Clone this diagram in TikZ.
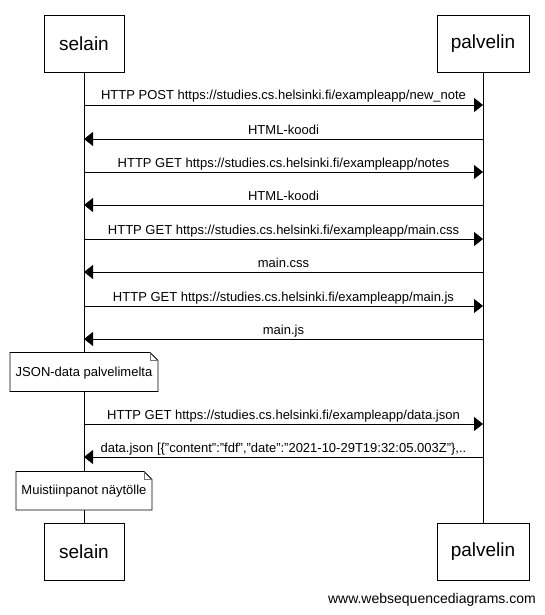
\documentclass[tikz,border=0pt]{standalone}
\usepackage{fontspec}
\setmainfont{Liberation Sans}
\usetikzlibrary{arrows.meta}
\begin{document}
\begin{tikzpicture}[x=1pt,y=-1pt,
  actor/.style={draw,line width=0.9pt,fill=white,minimum width=80pt,minimum height=57pt,inner sep=0pt,font=\fontsize{19}{22}\selectfont},
  msg/.style={line width=0.9pt,-{Triangle[length=9pt,width=14pt]}},
  lbl/.style={font=\fontsize{13}{15}\selectfont,anchor=base,inner sep=0pt},
  life/.style={line width=0.9pt},
  notetxt/.style={font=\fontsize{13}{15}\selectfont,inner sep=0pt},
  notebox/.style={draw,line width=0.9pt,fill=white},
  fold/.style={draw=black!55,line width=0.7pt}]
\useasboundingbox (0,0) rectangle (545,615);
% actors
\node[actor] (sT) at (84,43.8) {selain};
\node[actor,minimum width=92pt] (pT) at (483,43.8) {palvelin};
\node[actor] (sB) at (84,551.6) {selain};
\node[actor,minimum width=92pt] (pB) at (483,551.6) {palvelin};
% lifelines
\draw[life] (sT.south) -- (sB.north);
\draw[life] (pT.south) -- (pB.north);
% message coordinates
\foreach \n/\y in {1/105,2/139,3/172,4/205,5/239,6/272,7/306,8/339,9/424,10/457}{
  \coordinate (s\n) at (84,\y);
  \coordinate (p\n) at (483,\y);
}
\draw[msg] (s1) -- (p1) node[lbl,pos=0.5,yshift=5pt] {HTTP POST https://studies.cs.helsinki.fi/exampleapp/new\_note};
\draw[msg] (p2) -- (s2) node[lbl,pos=0.5,yshift=5pt] {HTML-koodi};
\draw[msg] (s3) -- (p3) node[lbl,pos=0.5,yshift=5pt] {HTTP GET https://studies.cs.helsinki.fi/exampleapp/notes};
\draw[msg] (p4) -- (s4) node[lbl,pos=0.5,yshift=5pt] {HTML-koodi};
\draw[msg] (s5) -- (p5) node[lbl,pos=0.5,yshift=5pt] {HTTP GET https://studies.cs.helsinki.fi/exampleapp/main.css};
\draw[msg] (p6) -- (s6) node[lbl,pos=0.5,yshift=5pt] {main.css};
\draw[msg] (s7) -- (p7) node[lbl,pos=0.5,yshift=5pt] {HTTP GET https://studies.cs.helsinki.fi/exampleapp/main.js};
\draw[msg] (p8) -- (s8) node[lbl,pos=0.5,yshift=5pt] {main.js};
\draw[msg] (s9) -- (p9) node[lbl,pos=0.5,yshift=5pt] {HTTP GET https://studies.cs.helsinki.fi/exampleapp/data.json};
\draw[msg] (p10) -- (s10) node[lbl,pos=0.5,yshift=5pt] {data.json [\{"content":"fdf","date":"2021-10-29T19:32:05.003Z"\},..};
% note 1
\path[notebox] (10,352.5) -- (150,352.5) -- (158,360.5) -- (158,391.5) -- (10,391.5) -- cycle;
\draw[fold] (150,352.5) -- (150,360.5) -- (158,360.5);
\node[notetxt] (n1) at (84,373) {JSON-data palvelimelta};
% note 2
\path[notebox] (16,471.5) -- (144,471.5) -- (152,479.5) -- (152,510) -- (16,510) -- cycle;
\draw[fold] (144,471.5) -- (144,479.5) -- (152,479.5);
\node[notetxt] (n2) at (84,491.5) {Muistiinpanot näytölle};
% watermark
\node[anchor=east,font=\fontsize{14}{16}\selectfont,inner sep=0pt] (wm) at (536,600) {www.websequencediagrams.com};
\end{tikzpicture}
\end{document}
